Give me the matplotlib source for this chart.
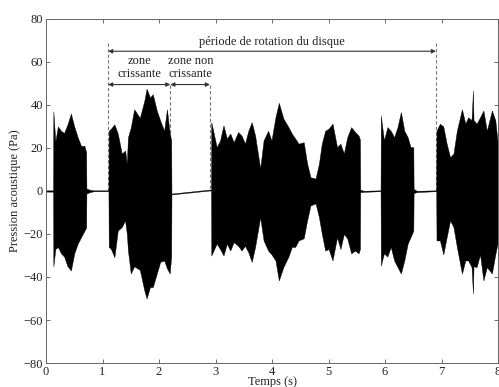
import matplotlib
matplotlib.use("Agg")
import matplotlib.pyplot as plt

# Envelope of the acoustic pressure signal
time_s = [0.00, 0.125, 0.13, 0.165, 0.21, 0.265, 0.32, 0.38, 0.44, 0.50, 0.56, 0.62, 0.68, 0.71,
          0.715, 0.78, 0.85, 1.105,
          1.11, 1.15, 1.21, 1.27, 1.34, 1.40, 1.43, 1.45, 1.50, 1.56, 1.66, 1.74, 1.78, 1.84, 1.89,
          1.96, 2.02, 2.09, 2.14, 2.19, 2.215,
          2.22, 2.92,
          2.925, 3.02, 3.08, 3.14, 3.20, 3.26, 3.32, 3.40, 3.46, 3.52, 3.58, 3.64, 3.70, 3.79, 3.85,
          3.93, 3.99, 4.06, 4.12, 4.20, 4.29, 4.35, 4.41, 4.47, 4.56, 4.62, 4.68, 4.77, 4.83, 4.88,
          4.94, 5.00, 5.07, 5.15, 5.21, 5.27, 5.33, 5.40, 5.47, 5.53, 5.555,
          5.56, 5.62, 5.92,
          5.925, 5.98, 6.04, 6.10, 6.16, 6.22, 6.28, 6.34, 6.40, 6.45, 6.50,
          6.505, 6.56, 6.905,
          6.91, 6.97, 7.03, 7.09, 7.15, 7.21, 7.27, 7.36, 7.42, 7.47, 7.53, 7.555, 7.565, 7.62,
          7.68, 7.74, 7.80, 7.89, 7.95, 8.00]
upper_pa = [0.3, 0.3, 37, 23, 30, 28, 27, 31, 36, 30, 25, 21, 21, 18,
            1.2, 0.5, 0.3, 0.3,
            28, 29, 31, 26.7, 17.4, 18.8, 12.8, 25, 29.5, 38, 34, 42, 47.6, 43.5, 45,
            37.4, 32.8, 28, 38, 26.7, 23.5,
            -1.2, 0.7,
            32, 20.4, 23.5, 30.5, 24.4, 26.7, 22.7, 27.4, 25.8, 22, 28, 32, 25.8, 10.5, 23.5,
            28, 23.5, 34.3, 41, 33.7, 29.7, 26.7, 24.4, 22, 22.7, 12.8, 6.4, 5.8, 12.8, 22,
            28, 29, 31.3, 20.4, 22, 17.4, 25, 29.7, 27.4, 25.8, 24,
            0.6, 0.1, 0.3,
            35, 23.5, 29.7, 28, 25, 29.7, 36.7, 28, 25, 20.4, 20.4,
            1.0, 0.1, 0.3,
            28, 31.3, 30, 22, 15.7, 17.4, 28, 38, 31.3, 34.3, 33, 46.7, 33, 31.3,
            34.3, 37.4, 28, 37.4, 33, 20.4]
lower_pa = [-0.3, -0.3, -35, -27, -26, -29, -30.5, -35, -37, -29, -24.5, -21.5, -18.5, -17,
            -1.2, -0.5, -0.1, -0.1,
            -26, -27, -30.8, -18.4, -16.8, -13.7, -20, -27.7, -38.4, -35, -36.7, -46.3, -50, -44.7, -44.7,
            -38.4, -33, -32.3, -36, -38.4, -30,
            -1.6, 0.3,
            -30, -24.5, -27, -30, -24.5, -27.7, -23.8, -25.5, -27.7, -25.5, -28.5, -33, -26, -12.2, -23,
            -27.7, -29.5, -32.3, -41.6, -35.4, -30.5, -26, -26, -23, -22, -13.7, -6.7, -5.8, -12.2, -19.8,
            -27.7, -27, -32.3, -21.5, -27, -20, -22, -29, -27.7, -29, -27,
            -0.6, -0.4, -0.1,
            -34.7, -29, -30.5, -26, -32.3, -35.4, -38.4, -32.3, -24.5, -21.5, -18.4,
            -1.0, -0.5, -0.1,
            -23, -23, -29.5, -21.5, -13.7, -16.8, -26, -38.4, -32.3, -32.3, -35.4, -47.7, -35, -35.4,
            -29.5, -41.6, -35.4, -38.4, -29.5, -23]

x_ticks = [0, 1, 2, 3, 4, 5, 6, 7, 8]
y_ticks = [-80, -60, -40, -20, 0, 20, 40, 60, 80]

# Annotation markers (s)
t_period_start, t_period_end = 1.1, 6.9
t_zone_split, t_zone_end = 2.2, 2.9

plt.rcParams['font.family'] = ['Liberation Serif', 'DejaVu Serif']

fig = plt.figure(figsize=(4.99, 3.87), dpi=100)
ax = fig.add_axes([0.0922, 0.062, 0.906, 0.889])

dash_kw = dict(color='#777777', lw=0.8, linestyle=(0, (3, 2)), zorder=1)
ax.plot([t_period_start, t_period_start], [68.6, 0], **dash_kw)
ax.plot([t_period_end, t_period_end], [68.6, 0], **dash_kw)
ax.plot([t_zone_split, t_zone_split], [49.5, 0], **dash_kw)
ax.plot([t_zone_end, t_zone_end], [49.5, 0], **dash_kw)

ax.fill_between(time_s, lower_pa, upper_pa, color='black', lw=0.3, zorder=2)

arr = dict(arrowstyle='<|-|>', color='#333333', lw=0.8, mutation_scale=6, shrinkA=0, shrinkB=0)
ax.annotate('', xy=(t_period_start, 65), xytext=(t_period_end, 65), arrowprops=arr)
ax.annotate('', xy=(t_period_start, 49.5), xytext=(t_zone_split, 49.5), arrowprops=arr)
ax.annotate('', xy=(t_zone_split, 49.5), xytext=(t_zone_end, 49.5), arrowprops=arr)

ax.text(4.0, 66.5, 'période de rotation du disque', ha='center', va='bottom', fontsize=9, color='#222222')
ax.text(1.66, 51.5, 'zone\ncrissante', ha='center', va='bottom', fontsize=9, color='#222222',
        linespacing=1.1)
ax.text(2.56, 51.5, 'zone non\ncrissante', ha='center', va='bottom', fontsize=9, color='#222222',
        linespacing=1.1)

ax.set_xlim(0, 8)
ax.set_ylim(-80, 80)
ax.set_xticks(x_ticks)
ax.set_yticks(y_ticks)
ax.tick_params(direction='in', top=True, right=True, length=3, width=0.6, color='#555555',
               labelsize=9, labelcolor='#222222', pad=2)
for s in ax.spines.values():
    s.set_color('#666666')
    s.set_linewidth(0.7)

ax.set_xlabel('Temps (s)', fontsize=9, labelpad=-1, color='#222222')
ax.set_ylabel('Pression acoustique (Pa)', fontsize=9, labelpad=2, color='#222222')

fig.savefig('out.png', dpi=100)
